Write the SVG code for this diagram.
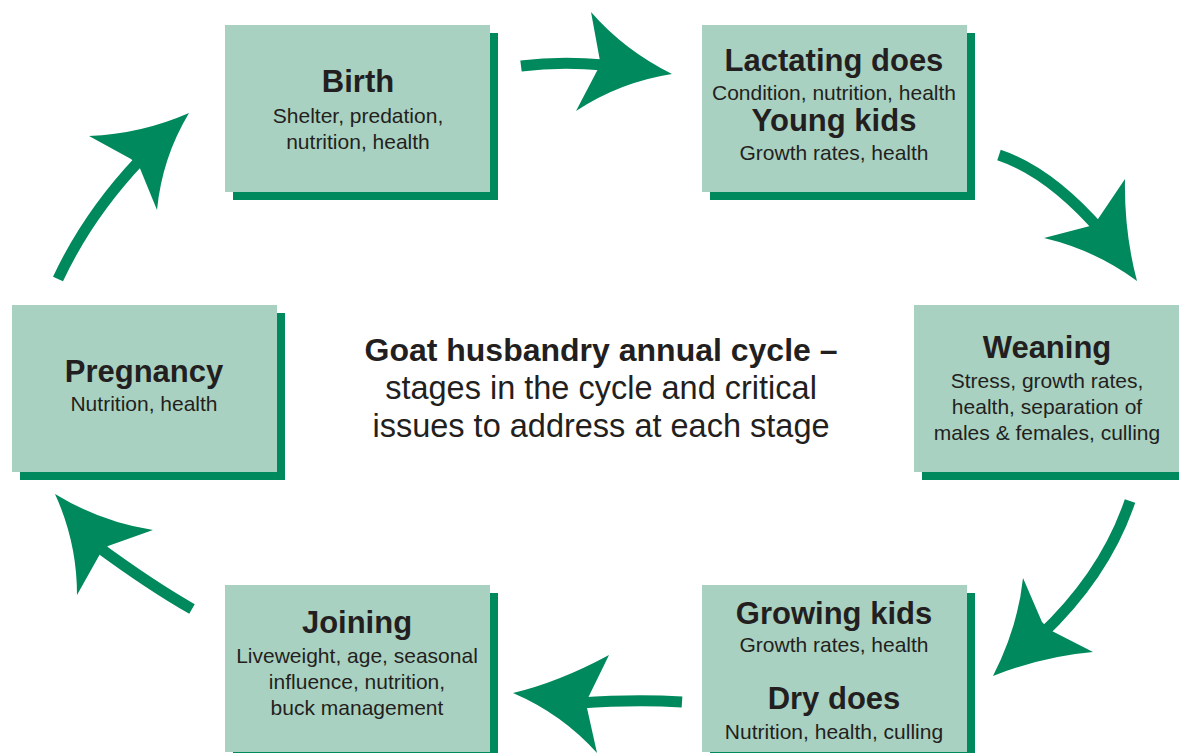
<svg xmlns="http://www.w3.org/2000/svg" width="1179" height="753" viewBox="0 0 1179 753">
<style>
.box{fill:#a9d1c1}
.sh{fill:#00895c}
.t{font-family:"Liberation Sans",Arial,sans-serif;font-weight:bold;font-size:31px;fill:#231f20;text-anchor:middle}
.s{font-family:"Liberation Sans",Arial,sans-serif;font-size:21px;fill:#231f20;text-anchor:middle}
.ct{font-family:"Liberation Sans",Arial,sans-serif;font-weight:bold;font-size:32px;fill:#231f20;text-anchor:middle}
.cs{font-family:"Liberation Sans",Arial,sans-serif;font-size:32.5px;fill:#231f20;text-anchor:middle}
.shaft{fill:none;stroke:#00895c;stroke-width:11}
.head{fill:#00895c}
</style>
<rect width="1179" height="753" fill="#ffffff"/>
<g id="connectors">
<path class="shaft" d="M521,66 Q560,61 604,65"/>
<path class="head" d="M591,12 Q624,50 672,74 Q620,82 576,111 L598,69 L600,61 Z"/>
<path class="shaft" d="M999,155 Q1050,172 1102,232"/>
<path class="head" d="M1125,179 Q1124,232 1137,281 Q1095,250 1044,238 L1090,226 L1098,219 Z"/>
<path class="shaft" d="M1130,501 Q1105,575 1040,636"/>
<path class="head" d="M1023,578 Q1018,627 993,676 Q1044,656 1093,652 L1050,630 L1042,622 Z"/>
<path class="shaft" d="M682,702 Q635,699 580,703"/>
<path class="head" d="M609,655 Q559,682 513,693 Q562,714 597,753 L587,708 L588,698 Z"/>
<path class="shaft" d="M192,609 Q150,585 97,546"/>
<path class="head" d="M153,530 Q101,522 55,494 Q77,542 77,595 L100,554 L108,546 Z"/>
<path class="shaft" d="M58,279 Q88,215 140,160"/>
<path class="head" d="M89,136 Q141,134 189,113 Q162,158 157,210 L139,166 L131,159 Z"/>
</g>
<g id="birth">
<rect class="sh" x="233" y="33" width="265" height="167"/>
<rect class="box" x="225" y="25" width="265" height="167"/>
<text class="t" x="358" y="92">Birth</text>
<text class="s" x="358" y="123">Shelter, predation,</text>
<text class="s" x="358" y="149">nutrition, health</text>
</g>
<g id="lactating">
<rect class="sh" x="710" y="33" width="265" height="167"/>
<rect class="box" x="702" y="25" width="265" height="167"/>
<text class="t" x="834" y="71">Lactating does</text>
<text class="s" x="834" y="100">Condition, nutrition, health</text>
<text class="t" x="834" y="131">Young kids</text>
<text class="s" x="834" y="160">Growth rates, health</text>
</g>
<g id="weaning">
<rect class="sh" x="922" y="313" width="265" height="167"/>
<rect class="box" x="914" y="305" width="265" height="167"/>
<text class="t" x="1047" y="358">Weaning</text>
<text class="s" x="1047" y="388">Stress, growth rates,</text>
<text class="s" x="1047" y="414">health, separation of</text>
<text class="s" x="1047" y="440">males &amp; females, culling</text>
</g>
<g id="growing">
<rect class="sh" x="710" y="593" width="265" height="167"/>
<rect class="box" x="702" y="585" width="265" height="167"/>
<text class="t" x="834" y="624">Growing kids</text>
<text class="s" x="834" y="652">Growth rates, health</text>
<text class="t" x="834" y="709">Dry does</text>
<text class="s" x="834" y="739">Nutrition, health, culling</text>
</g>
<g id="joining">
<rect class="sh" x="233" y="593" width="265" height="167"/>
<rect class="box" x="225" y="585" width="265" height="167"/>
<text class="t" x="357" y="633">Joining</text>
<text class="s" x="357" y="663">Liveweight, age, seasonal</text>
<text class="s" x="357" y="689">influence, nutrition,</text>
<text class="s" x="357" y="715">buck management</text>
</g>
<g id="pregnancy">
<rect class="sh" x="20" y="313" width="265" height="167"/>
<rect class="box" x="12" y="305" width="265" height="167"/>
<text class="t" x="144" y="382">Pregnancy</text>
<text class="s" x="144" y="411">Nutrition, health</text>
</g>
<g id="title">
<text class="ct" x="601" y="361">Goat husbandry annual cycle –</text>
<text class="cs" x="601" y="399">stages in the cycle and critical</text>
<text class="cs" x="601" y="437">issues to address at each stage</text>
</g>
</svg>
